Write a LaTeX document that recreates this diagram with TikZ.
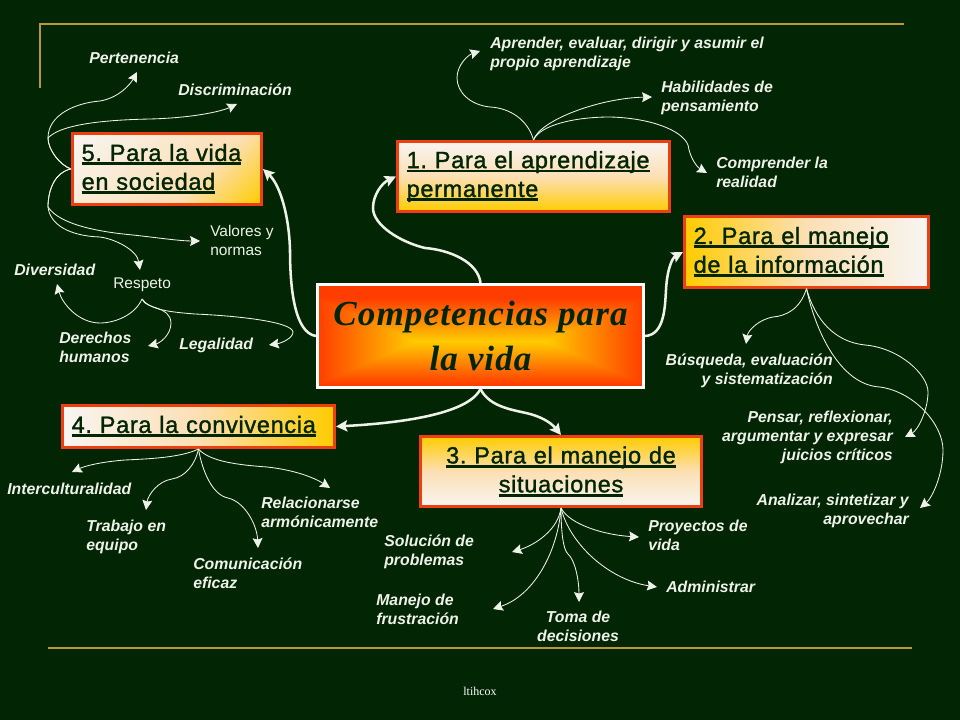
\documentclass[tikz,border=0pt]{standalone}
\usepackage{fontspec}
\usepackage{tikz}
\usetikzlibrary{arrows.meta}
\newfontfamily\boxfont[LetterSpace=3,FakeBold=1.4]{Liberation Sans}
\newfontfamily\itemfont{Liberation Sans}
\newfontfamily\titlefont[LetterSpace=3]{Liberation Serif}
\newcommand{\boxline}[1]{\leavevmode\setbox0\hbox{#1}\rlap{\rule[-3pt]{\wd0}{2pt}}\box0}
\definecolor{bg}{HTML}{022604}
\definecolor{rule}{HTML}{B8963E}
\definecolor{boxred}{HTML}{EE3F10}
\definecolor{boxwhite}{HTML}{F8F5F2}
\definecolor{boxpeach}{HTML}{FCDFB4}
\definecolor{boxgold}{HTML}{FFCC00}
\definecolor{ink}{HTML}{EEF2E8}
\pgfdeclarefunctionalshading{glow}{\pgfpointorigin}{\pgfpoint{100bp}{100bp}}{}{
  47.5 sub abs 25 div 1.2 mul exch 50 sub abs 10 sub dup 0 lt {pop 0} if 15 div
  2 copy lt {exch} if pop dup 1 gt {pop 1} if
  0.56 mul 0.8 exch sub 1 exch 0
}
\pgfdeclareverticalshading{dusk}{100bp}{color(0bp)=(boxwhite); color(15bp)=(boxwhite); color(62bp)=(boxpeach); color(85bp)=(boxgold); color(100bp)=(boxgold)}

\begin{document}
\begin{tikzpicture}[
                x=0.025cm,y=-0.025cm,
                box/.style={rectangle,draw=boxred,line width=0.075cm,inner sep=0.23cm,minimum height=1.75cm,
                    align=left,text=bg,font=\frenchspacing\boxfont\fontsize{16.7}{20.5}\selectfont},
                main/.style={rectangle,draw=white,line width=0.075cm,minimum width=8.15cm,minimum height=2.575cm,
                    shading=glow,align=center,text=bg,font=\titlefont\bfseries\itshape\fontsize{25}{32}\selectfont},
                item/.style={anchor=west,inner sep=0,align=left,text=ink,font=\itemfont\bfseries\itshape\fontsize{11.25}{13.5}\selectfont},
                plain/.style={item,font=\itemfont\fontsize{11}{13.5}\selectfont},
                branch/.style={draw=ink,line width=0.6pt,-{Stealth[length=7pt,width=7pt,inset=1pt]}},
                trunk/.style={draw=ink,line width=1.8pt,-{Stealth[length=8pt,width=8pt,inset=1.5pt]}},
                frame/.style={draw=rule,line width=1.4pt},
            ]
                \useasboundingbox (0,0) rectangle (960,720);
                \fill[bg] (0,0) rectangle (960,720);

                \draw[frame] (40,88) -- (40,24) -- (904,24);
                \draw[frame] (48,648) -- (912,648);

                \node[main] (main) at (480.5,336) {Competencias para\\la vida};
                \node[box,minimum width=6.8cm,text width=6.34cm,top color=boxwhite,bottom color=boxgold,middle color=boxpeach] (b1) at (533.5,176.5) {\boxline{1. Para el aprendizaje}\\\boxline{permanente}};
                \node[box,minimum width=6.1cm,text width=5.64cm,left color=boxgold,right color=boxwhite,middle color=boxpeach] (b2) at (806.5,252) {\boxline{2. Para el manejo}\\\boxline{de la información}};
                \node[box,minimum width=7.025cm,text width=6.565cm,align=center,top color=boxgold,bottom color=boxwhite,middle color=boxpeach] (b3) at (561,471.5) {\boxline{3. Para el manejo de}\\\boxline{situaciones}};
                \node[box,minimum width=6.8cm,text width=6.34cm,minimum height=1.05cm,left color=boxwhite,right color=boxgold,middle color=boxpeach] (b4) at (198.5,426.5) {\boxline{4. Para la convivencia}};
                \node[box,minimum width=4.725cm,text width=4.265cm,shading=dusk,shading angle=-135] (b5) at (167,169) {\boxline{5. Para la vida}\\\boxline{en sociedad}};

                \node[item] (pert) at (89,58) {Pertenencia};
                \node[item] (disc) at (178,90) {Discriminación};
                \node[plain] (valo) at (210,240.5) {Valores y\\normas};
                \node[plain] (resp) at (113,284.5) {Respeto};
                \node[item] (dive) at (14,269.5) {Diversidad};
                \node[item] (dere) at (59,347.5) {Derechos\\humanos};
                \node[item] (lega) at (179,345.5) {Legalidad};
                \node[item] (apre) at (490,53.5) {Aprender, evaluar, dirigir y asumir el\\propio aprendizaje};
                \node[item] (habi) at (661,97.5) {Habilidades de\\pensamiento};
                \node[item] (comp) at (716,172.5) {Comprender la\\realidad};
                \node[item,anchor=east,align=right] (busq) at (833,370.5) {Búsqueda, evaluación\\y sistematización};
                \node[item,anchor=east,align=right] (pens) at (893,437.5) {Pensar, reflexionar,\\argumentar y expresar\\juicios críticos};
                \node[item,anchor=east,align=right] (anal) at (909,510.5) {Analizar, sintetizar y\\aprovechar};
                \node[item] (inte) at (7,488.5) {Interculturalidad};
                \node[item] (trab) at (86,536.5) {Trabajo en\\equipo};
                \node[item] (comu) at (193,573.5) {Comunicación\\eficaz};
                \node[item] (rela) at (261,512.5) {Relacionarse\\armónicamente};
                \node[item] (solu) at (384,551.5) {Solución de\\problemas};
                \node[item] (proy) at (648,535.5) {Proyectos de\\vida};
                \node[item] (admi) at (666,586.5) {Administrar};
                \node[item] (mane) at (376,609.5) {Manejo de\\frustración};
                \node[item,anchor=center,align=center] (toma) at (578,626.5) {Toma de\\decisiones};
                \node[inner sep=0,text=white,font=\fontspec{Liberation Serif}\fontsize{8.5}{9}\selectfont] (foot) at (480,691) {ltihcox};

                \coordinate (forkr) at (142,299);
                \coordinate (tpert) at (137,72);
                \coordinate (tdisc) at (237,104);
                \coordinate (tvalo) at (200,241);
                \coordinate (tresp) at (140,270);
                \coordinate (tdive) at (57,284);
                \coordinate (tdere) at (148,346);
                \coordinate (tlega) at (269,345);
                \coordinate (tapre) at (480,51);
                \coordinate (thabi) at (652,97);
                \coordinate (tcomp) at (707,173);
                \coordinate (tbusq) at (746,344);
                \coordinate (tpens) at (905,437);
                \coordinate (tanal) at (920,508);
                \coordinate (tinte) at (72,472);
                \coordinate (ttrab) at (146,510);
                \coordinate (tcomu) at (258,548);
                \coordinate (trela) at (330,488);
                \coordinate (tsolu) at (512,552);
                \coordinate (tmane) at (493,609);
                \coordinate (ttoma) at (579,602);
                \coordinate (tproy) at (639,537);
                \coordinate (tadmi) at (657,587);

% Thick arrows out of the centre box.
                \draw[trunk] (main.west) .. controls (295,333) and (290,290) .. (290,250) .. controls (289,215) and (280,185) .. (b5.east);
                \draw[trunk] (main.north) .. controls (478,262) and (450,250) .. (425,248) .. controls (400,242) and (373,225) .. (373,208) .. controls (373,195) and (382,183) .. (b1.west);
                \draw[trunk] (main.east) .. controls (665,335) and (665,305) .. (666,290) .. controls (667,270) and (672,258) .. (b2.west);
                \draw[trunk] (main.south) .. controls (470,410) and (420,422) .. (b4.east);
                \draw[trunk] (main.south) .. controls (490,408) and (515,410) .. (530,414) .. controls (545,418) and (553,425) .. (b3.north);

% Thin arrows.
                \draw[branch] (b5.west) .. controls (60,165) and (48,150) .. (48,138) .. controls (48,115) and (75,103) .. (100,101) .. controls (118,98) and (130,85) .. (tpert);
                \draw[branch] (b5.west) .. controls (60,165) and (48,150) .. (48,138) .. controls (60,125) and (100,120) .. (150,119) .. controls (190,118) and (220,112) .. (tdisc);
                \draw[branch] (b5.west) .. controls (55,172) and (48,190) .. (48,207) .. controls (60,225) and (100,232) .. (133,235) .. controls (160,238) and (180,241) .. (tvalo);
                \draw[branch] (b5.west) .. controls (55,172) and (48,190) .. (48,207) .. controls (50,225) and (70,236) .. (100,237) .. controls (115,239) and (137,250) .. (tresp);
                \draw[branch] (forkr) .. controls (135,315) and (115,323) .. (100,323) .. controls (78,323) and (62,303) .. (tdive);
                \draw[branch] (forkr) .. controls (146,310) and (170,305) .. (171,323) .. controls (171,335) and (160,343) .. (tdere);
                \draw[branch] (forkr) .. controls (150,310) and (170,312) .. (195,314) .. controls (240,316) and (292,322) .. (293,332) .. controls (293,338) and (282,343) .. (tlega);

                \draw[branch] (b1.north) .. controls (528,120) and (510,108) .. (490,107) .. controls (470,105) and (457,92) .. (457,78) .. controls (457,65) and (468,55) .. (tapre);
                \draw[branch] (b1.north) .. controls (540,120) and (600,98) .. (thabi);
                \draw[branch] (b1.north) .. controls (540,125) and (575,117) .. (610,117) .. controls (650,118) and (682,130) .. (688,145) .. controls (690,158) and (697,167) .. (tcomp);

                \draw[branch] (b2.south) .. controls (800,310) and (785,316) .. (773,317) .. controls (760,319) and (748,330) .. (tbusq);
                \draw[branch] (b2.south) .. controls (815,320) and (835,342) .. (865,345) .. controls (900,348) and (928,375) .. (928,392) .. controls (928,410) and (918,430) .. (tpens);
                \draw[branch] (b2.south) .. controls (815,330) and (840,385) .. (880,387) .. controls (915,392) and (943,425) .. (943,450) .. controls (943,475) and (932,498) .. (tanal);

                \draw[branch] (b4.south) .. controls (180,458) and (145,459) .. (125,460) .. controls (100,462) and (85,466) .. (tinte);
                \draw[branch] (b4.south) .. controls (195,465) and (185,477) .. (172,479) .. controls (158,481) and (148,495) .. (ttrab);
                \draw[branch] (b4.south) .. controls (202,470) and (212,495) .. (228,498) .. controls (245,502) and (257,525) .. (tcomu);
                \draw[branch] (b4.south) .. controls (210,462) and (240,465) .. (267,467) .. controls (295,470) and (315,478) .. (trela);

                \draw[branch] (b3.south) .. controls (558,530) and (535,545) .. (tsolu);
                \draw[branch] (b3.south) .. controls (558,550) and (535,595) .. (tmane);
                \draw[branch] (b3.south) .. controls (561,530) and (563,550) .. (568,554) .. controls (575,560) and (579,580) .. (ttoma);
                \draw[branch] (b3.south) .. controls (570,525) and (605,535) .. (tproy);
                \draw[branch] (b3.south) .. controls (570,545) and (610,580) .. (tadmi);
            \end{tikzpicture}
\end{document}
